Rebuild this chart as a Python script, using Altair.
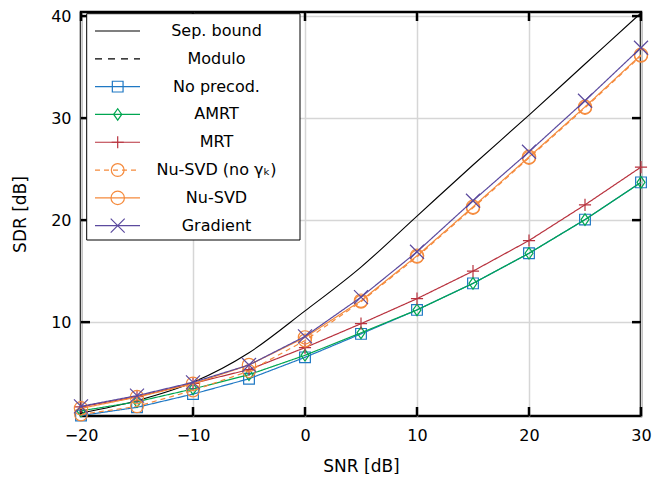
import altair as alt
import pandas as pd

snr = [-20, -15, -10, -5, 0, 5, 10, 15, 20, 25, 30]
sep_bound = [1.1, 2.3, 4.1, 7.0, 11.1, 15.4, 20.4, 25.4, 30.3, 35.3, 40.3]
no_precod = [0.84, 1.65, 2.95, 4.45, 6.55, 8.85, 11.2, 13.8, 16.75, 20.05, 23.7]
amrt = [1.3, 2.2, 3.45, 4.85, 6.75, 8.95, 11.2, 13.8, 16.75, 20.05, 23.7]
mrt = [1.7, 2.7, 4.0, 5.35, 7.5, 9.85, 12.3, 15.0, 18.0, 21.5, 25.2]
nusvd_nogamma = [0.95, 1.75, 3.3, 5.2, 8.2, 12.0, 16.4, 21.2, 26.1, 31.0, 36.1]
nusvd = [1.55, 2.65, 3.95, 5.8, 8.5, 12.1, 16.5, 21.3, 26.2, 31.1, 36.2]
gradient = [1.75, 2.8, 4.1, 5.8, 8.6, 12.45, 16.9, 21.9, 26.7, 31.7, 36.9]

names = ["Sep. bound", "Modulo", "No precod.", "AMRT", "MRT",
         "Nu-SVD (no γₖ)", "Nu-SVD", "Gradient"]
colors = ["#000000", "#000000", "#1f78c4", "#00a651", "#b8323e",
          "#f58a3c", "#f58a3c", "#5b4a9e"]
dashes = [[1, 0], [7, 6], [1, 0], [1, 0], [1, 0], [5, 4], [1, 0], [1, 0]]
marker_names = names[2:]
shapes = ["square", "M-0.7,0L0,-1L0.7,0L0,1Z", "M-1,0L1,0M0,-1L0,1",
          "circle", "circle", "M-1,-1L1,1M1,-1L-1,1"]
sizes = [115, 196, 196, 100, 100, 100]

xticks = [-20, -10, 0, 10, 20, 30]
yticks = [10, 20, 30, 40]

series_values = [sep_bound, None, no_precod, amrt, mrt, nusvd_nogamma, nusvd, gradient]
rows = []
for name, vals in zip(names, series_values):
    if vals is None:
        continue
    for s, v in zip(snr, vals):
        rows.append({"snr": s, "value": v, "series": name})
df = pd.DataFrame(rows)

FONT = "DejaVu Sans"
TOP = 4
W, H = 560, 404

xs = alt.Scale(domain=[-20, 30], nice=False, zero=False)
ys = alt.Scale(domain=[0.8, 40.4], nice=False, zero=False)
cs = alt.Scale(domain=names, range=colors)
ds = alt.Scale(domain=names, range=dashes)
ss = alt.Scale(domain=marker_names, range=shapes)
zs = alt.Scale(domain=marker_names, range=sizes)

xaxis = alt.Axis(values=xticks, grid=True, gridColor="#d6d6d6", gridWidth=1.5,
                 ticks=False, tickSize=0, domain=False, labelFont=FONT,
                 labelFontSize=16, labelColor="black", labelPadding=11,
                 labelFlush=False, labelOverlap=False, titleFont=FONT,
                 titleFontSize=17, titleFontWeight="normal", titleColor="black",
                 titleX=W / 2, titleY=50, titleBaseline="middle", titleAlign="center")
yaxis = alt.Axis(values=yticks, grid=True, gridColor="#d6d6d6", gridWidth=1.5,
                 ticks=False, tickSize=0, domain=False, labelFont=FONT,
                 labelFontSize=16, labelColor="black", labelPadding=10,
                 labelFlush=False, labelOverlap=False, titleFont=FONT,
                 titleFontSize=17, titleFontWeight="normal", titleColor="black",
                 titleX=-61, titleY=214 - 8 - TOP, titleBaseline="middle",
                 titleAlign="center", titleAngle=270)

X = alt.X("snr:Q", scale=xs, axis=xaxis, title="SNR [dB]")
Y = alt.Y("value:Q", scale=ys, axis=yaxis, title="SDR [dB]")

layers = []
# inward ticks on all four sides
xt_df = pd.DataFrame({"snr": xticks})
yt_df = pd.DataFrame({"value": yticks})
layers.append(alt.Chart(xt_df).mark_rule(color="black", strokeWidth=2.5).encode(
    x=X, y=alt.value(H), y2=alt.value(H - 9)))
layers.append(alt.Chart(xt_df).mark_rule(color="black", strokeWidth=2.5).encode(
    x=X, y=alt.value(0), y2=alt.value(9)))
layers.append(alt.Chart(yt_df).mark_rule(color="black", strokeWidth=2.5).encode(
    y=Y, x=alt.value(0), x2=alt.value(9)))
layers.append(alt.Chart(yt_df).mark_rule(color="black", strokeWidth=2.5).encode(
    y=Y, x=alt.value(W), x2=alt.value(W - 9)))

# separation bound (smooth)
layers.append(alt.Chart(df[df.series == "Sep. bound"]).mark_line(
    color="black", strokeWidth=1.1, interpolate="monotone").encode(x=X, y=Y))

for name in marker_names:
    sub = df[df.series == name]
    layers.append(alt.Chart(sub).mark_line(strokeWidth=1.2).encode(
        x=X, y=Y,
        color=alt.Color("series:N", scale=cs, legend=None),
        strokeDash=alt.StrokeDash("series:N", scale=ds, legend=None)))
    layers.append(alt.Chart(sub).mark_point(filled=False, strokeWidth=1.2, opacity=1).encode(
        x=X, y=Y,
        color=alt.Color("series:N", scale=cs, legend=None),
        shape=alt.Shape("series:N", scale=ss, legend=None),
        size=alt.Size("series:N", scale=zs, legend=None)))

main = alt.layer(*layers)

# legend (pgfplots style)
leg_df = pd.DataFrame({"series": names})
leg_mk = pd.DataFrame({"series": marker_names})
OFF = 9 - (8 + TOP)  # keep legend at same page position
ly = alt.Scale(type="point", domain=names, range=[22 + OFF, 216.7 + OFF], padding=0)
LY = alt.Y("series:N", scale=ly, axis=None)

box = alt.Chart(pd.DataFrame({"a": [0]})).mark_rect(
    fill="white", stroke="black", strokeWidth=1).encode(
    x=alt.value(5.7), x2=alt.value(219), y=alt.value(3.7 + OFF + 1), y2=alt.value(231 + OFF))
leg_lines = alt.Chart(leg_df).mark_rule(strokeWidth=1.2).encode(
    x=alt.value(14), x2=alt.value(59), y=LY,
    color=alt.Color("series:N", scale=cs, legend=None),
    strokeDash=alt.StrokeDash("series:N", scale=ds, legend=None))
leg_pts = alt.Chart(leg_mk).mark_point(filled=False, strokeWidth=1.2, opacity=1).encode(
    x=alt.value(36.7), y=LY,
    color=alt.Color("series:N", scale=cs, legend=None),
    shape=alt.Shape("series:N", scale=ss, legend=None),
    size=alt.Size("series:N", scale=zs, legend=None))
leg_text = alt.Chart(leg_df).mark_text(
    font=FONT, fontSize=16, align="center", baseline="middle", color="black").encode(
    x=alt.value(135.5), y=LY, text="series:N")
legend = alt.layer(box, leg_lines, leg_pts, leg_text)

chart = alt.layer(main, legend).resolve_scale(y="independent").properties(
    width=W, height=H,
    autosize=alt.AutoSizeParams(type="none"),
    padding={"left": 73, "top": TOP, "right": 13, "bottom": 58},
    background="white",
).configure_view(stroke="black", strokeWidth=2.5)

chart.save("out.html", embed_options={"renderer": "svg", "actions": False})
